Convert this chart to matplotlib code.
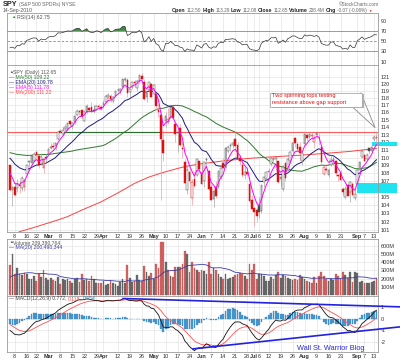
import numpy as np
import pandas as pd
import matplotlib
matplotlib.use('Agg')
import matplotlib.pyplot as plt
from matplotlib.patches import Rectangle
from matplotlib.ticker import NullLocator

plt.rcParams['font.family'] = ['Liberation Sans', 'DejaVu Sans']

# ---------------- data ----------------
holidays = ['2010-02-15', '2010-04-02', '2010-05-31', '2010-07-05', '2010-09-06']
dates = pd.bdate_range('2010-02-04', '2010-09-14', freq='C', holidays=holidays)

opens = [109.0,105.9,106.2,106.1,106.5,106.1,106.3,107.9,109.4,109.3,109.5,110.7,110.2,109.2,108.7,110.1,
 110.4,111.3,111.5,111.5,112.4,113.5,113.1,113.7,113.6,114.9,114.2,114.7,115.7,116.2,116.3,114.9,116.1,116.6,116.8,116.4,116.4,116.9,116.7,
 117.0,117.5,118.1,118.3,117.6,118.3,119.1,119.0,119.6,120.5,120.5,118.8,119.6,120.3,119.4,120.4,121.1,120.3,118.1,119.1,120.0,
 118.6,118.6,116.4,115.6,112.3,114.8,114.7,115.3,116.7,114.4,113.4,113.9,111.2,109.4,105.9,108.1,104.9,107.3,107.7,109.5,
 108.0,107.0,109.7,108.3,106.3,104.8,106.3,106.3,107.5,109.3,108.8,110.9,111.5,111.6,112.4,111.6,109.9,109.1,107.8,108.1,106.6,104.6,
 103.6,103.4,104.0,103.3,106.9,107.3,108.2,109.2,109.7,109.8,109.5,107.2,106.0,109.3,108.4,109.6,110.8,112.6,111.8,111.4,109.6,
 111.8,112.9,112.7,112.8,112.1,113.0,112.6,111.4,107.9,108.5,107.8,109.0,109.6,109.5,107.7,108.0,106.0,105.0,106.5,105.6,106.6,104.9,
 106.6,108.4,110.1,110.3,109.8,111.2,110.9,112.4,112.50]
highs = [109.1,106.4,106.8,107.3,107.0,107.6,107.3,109.1,109.6,110.3,110.7,110.8,110.4,110.4,110.0,110.5,
 111.2,111.9,112.0,111.9,113.5,113.7,114.1,114.4,114.6,114.9,114.7,115.6,116.5,116.3,116.4,116.3,117.1,116.8,117.4,117.0,117.0,117.2,117.0,
 117.7,118.4,118.7,118.6,118.3,119.0,119.4,119.4,120.6,120.9,120.8,119.3,120.3,120.5,120.5,121.3,121.5,120.6,118.8,120.3,120.1,
 119.9,118.7,117.2,116.0,113.6,116.1,116.6,116.8,116.9,114.6,113.8,114.4,112.2,109.8,108.9,108.5,107.2,108.3,109.9,109.6,
 109.3,109.4,110.1,108.4,106.6,105.9,107.0,108.3,108.7,109.9,111.4,111.6,111.9,112.2,113.3,112.1,110.3,109.3,108.8,108.7,106.7,105.3,
 103.8,103.6,105.0,106.5,107.5,108.2,108.7,110.1,110.3,110.2,109.6,107.7,109.0,109.4,110.0,110.8,112.0,112.7,112.0,112.0,110.9,
 113.2,113.1,113.4,113.2,112.9,113.4,113.2,111.5,109.1,108.9,108.7,110.3,110.2,109.7,107.9,108.4,106.2,106.4,106.6,107.0,106.9,106.0,
 108.5,109.5,110.95,110.5,110.6,111.3,111.5,113.0,113.29]
lows = [105.8,103.9,105.1,105.6,105.5,105.7,105.7,107.6,108.8,109.2,109.4,110.0,108.7,109.1,108.0,109.4,
 110.3,111.1,111.1,111.0,112.3,113.2,112.9,113.5,113.5,114.2,113.8,114.5,115.6,115.7,115.2,114.8,115.9,116.1,116.0,115.9,116.3,116.5,116.4,
 116.6,117.4,117.9,117.5,117.3,118.1,118.9,118.5,119.5,120.3,118.1,118.1,119.3,119.5,119.0,120.1,120.6,117.7,117.5,118.9,118.1,
 118.5,116.3,115.4,104.6,109.5,114.1,114.4,115.2,115.1,112.1,110.7,111.5,110.0,106.7,105.4,106.8,104.0,106.2,107.6,108.0,
 106.6,106.3,108.6,105.9,104.6,103.8,104.9,106.1,107.3,108.6,108.7,110.6,110.8,111.3,110.9,109.7,109.0,107.5,107.2,107.6,104.3,103.4,
 101.5,102.0,102.4,103.1,106.3,107.1,107.6,108.9,109.2,108.4,106.7,106.4,105.8,107.0,108.3,109.3,110.6,111.4,110.9,109.7,109.1,
 111.7,112.2,112.5,112.5,111.2,112.7,111.7,109.3,107.8,108.1,107.5,108.9,109.1,107.6,107.0,107.0,105.2,104.8,105.1,104.4,105.3,104.6,
 106.5,108.3,109.9,109.5,109.7,110.5,110.7,112.2,112.08]
closes = [105.9,106.2,105.25,106.6,106.4,107.4,107.1,109.05,109.5,110.2,110.5,110.35,109.0,110.1,109.85,110.0,
 111.1,111.4,111.35,111.85,113.4,113.35,113.6,114.1,114.55,114.5,114.6,115.5,116.15,116.1,115.5,116.1,116.95,116.3,116.1,116.2,116.85,116.8,116.5,
 117.35,118.25,118.45,117.8,118.15,118.95,119.15,119.25,120.6,120.7,118.75,119.25,120.25,120.1,120.4,121.25,120.7,117.9,118.65,120.2,118.2,
 119.75,116.9,116.1,112.4,110.65,115.5,115.1,116.7,115.3,113.1,113.25,111.65,111.05,106.75,108.35,106.95,106.9,106.35,109.85,108.5,
 106.65,109.4,109.85,106.05,104.65,105.8,105.15,108.25,108.7,108.65,111.3,111.35,111.6,111.85,111.5,109.8,109.5,107.7,108.1,107.9,104.55,103.5,
 103.15,102.65,103.2,106.45,107.45,108.2,108.3,109.95,109.9,110.1,106.9,107.55,108.8,107.4,109.8,110.7,111.95,111.85,111.05,110.6,110.65,
 113.05,112.5,113.15,113.0,112.6,113.2,112.55,109.4,108.8,108.35,108.4,109.7,109.85,108.0,107.6,107.15,105.6,105.95,105.15,106.9,105.3,105.35,
 108.45,109.45,110.9,109.6,110.35,110.85,111.4,112.72,112.65]
volumes = [370,500,250,330,260,240,270,250,200,190,230,170,250,220,300,210,
 180,210,180,170,220,130,190,180,190,170,150,200,210,160,250,180,190,170,230,190,150,140,150,
 170,120,130,170,140,130,110,160,190,150,360,210,160,170,240,180,170,350,280,230,270,
 200,380,330,650,650,400,300,230,220,340,340,340,380,530,500,280,400,330,300,280,
 300,290,250,400,260,330,300,260,220,200,250,200,210,220,240,250,270,250,230,200,380,300,
 380,200,250,260,230,170,170,220,200,240,280,210,240,230,210,200,180,200,180,240,220,
 190,170,160,140,220,150,230,280,230,190,170,200,180,260,230,190,280,240,210,280,160,280,
 270,160,170,140,150,140,160,170,208]

# closes / volumes before Feb 4 (indicator warm-up only)
warm_closes = [108.14,109.62,109.57,110.06,108.15,108.56,109.89,109.92,108.99,109.6,109.33,108.19,108.6,
 109.24,109.64,110.41,109.79,109.92,108.61,109.8,110.96,111.35,111.61,112.2,112.33,112.17,112.19,111.06,
 112.85,113.2,113.26,113.72,114.05,114.25,113.17,114.12,114.4,113.15,114.57,113.35,111.2,108.73,109.23,
 108.77,109.3,108.0,106.94,108.47,109.88,109.28]
warm_volumes = [130,120,130,170,150,140,190,170,210,300,320,210,230,240,280,300,210,200,240]

ma200_dates = ['2010-02-04','2010-02-10','2010-02-19','2010-03-05','2010-03-11','2010-03-19','2010-03-31',
 '2010-04-12','2010-04-21','2010-04-29','2010-05-06','2010-05-17','2010-05-21','2010-06-01','2010-06-15',
 '2010-06-29','2010-07-14','2010-07-29','2010-08-13','2010-08-27','2010-09-14']
ma200_vals = [100.2,100.8,101.3,102.2,102.6,103.4,104.4,105.5,106.7,107.5,108.0,108.6,108.9,109.2,109.6,
 109.9,110.1,110.3,110.55,110.8,111.2]

tick_dates = ['2010-02-08','2010-02-16','2010-02-22','2010-03-01','2010-03-08','2010-03-15','2010-03-22',
 '2010-03-29','2010-04-01','2010-04-12','2010-04-19','2010-04-26','2010-05-03','2010-05-10','2010-05-17',
 '2010-05-24','2010-06-01','2010-06-07','2010-06-14','2010-06-21','2010-06-28','2010-07-01','2010-07-06',
 '2010-07-12','2010-07-19','2010-07-26','2010-08-02','2010-08-09','2010-08-16','2010-08-23','2010-09-01',
 '2010-09-07','2010-09-13']
tick_labels = ['8','16','22','Mar','8','15','22','29','Apr','12','19','26','May','10','17','24','Jun','7',
 '14','21','28','Jul','6','12','19','26','Aug','9','16','23','Sep','7','13']
months = {'Mar','Apr','May','Jun','Jul','Aug','Sep'}

price_ticks = list(range(101, 122))
rsi_ticks = [90, 70, 50, 30, 10]
vol_ticks = [100, 200, 300, 400, 500, 600]
macd_ticks = [1, 0, -1, -2]

# ---------------- indicators ----------------
n = len(closes)
O = np.array(opens); Hh = np.array(highs); Lw = np.array(lows); C = np.array(closes)
V = np.array(volumes, dtype=float)
x = np.arange(n)
pos = {d.strftime('%Y-%m-%d'): i for i, d in enumerate(dates)}
tick_idx = [pos[d] for d in tick_dates]

s = pd.Series(warm_closes + closes)
ema5 = s.ewm(span=5, adjust=False).mean().values[-n:]
ema20 = s.ewm(span=20, adjust=False).mean().values[-n:]
ma50 = s.rolling(50).mean().values[-n:]
macd = s.ewm(span=12, adjust=False).mean() - s.ewm(span=26, adjust=False).mean()
sig = macd.ewm(span=9, adjust=False).mean()
hist = (macd - sig).values[-n:]
macd_v = macd.values[-n:]; sig_v = sig.values[-n:]
d = s.diff()
ag = d.clip(lower=0).ewm(alpha=1/14, adjust=False).mean()
al = (-d.clip(upper=0)).ewm(alpha=1/14, adjust=False).mean()
rsi = (100 - 100 / (1 + ag / al)).values[-n:]
vma = pd.Series(warm_volumes + volumes, dtype=float).rolling(20, min_periods=1).mean().values[-n:]
prev = np.concatenate([[warm_closes[-1]], C[:-1]])
up = C >= prev

# ---------------- figure ----------------
W, Hp = 400, 360
fig = plt.figure(figsize=(4, 3.6), dpi=100)
def fx(v): return v / W
def fy(v): return 1 - v / Hp
Lx, Rx = 7, 378
def add_ax(top, bottom):
    return fig.add_axes([fx(Lx), fy(bottom), (Rx - Lx) / W, (bottom - top) / Hp])

ax_r = add_ax(12.5, 64.5)
ax_p = add_ax(64.5, 232)
ax_v = add_ax(239, 295.5)
ax_m = add_ax(295.5, 352)

GRID = '#e4e4e4'
def style(ax, yt, yl, show_x):
    ax.set_xlim(-1.25, 153.65)
    for sp in ax.spines.values():
        sp.set_color('#9a9a9a'); sp.set_linewidth(0.6)
    ax.yaxis.tick_right()
    ax.set_yticks(yt)
    ax.set_yticklabels(yl)
    ax.yaxis.set_minor_locator(NullLocator())
    ax.tick_params(axis='y', length=0, pad=2, labelsize=4, labelcolor='#333333')
    ax.set_xticks(tick_idx)
    if show_x:
        ax.set_xticklabels(tick_labels)
        for t in ax.get_xticklabels():
            if t.get_text() in months:
                t.set_fontweight('bold')
    else:
        ax.set_xticklabels([])
    ax.tick_params(axis='x', length=0, pad=1.2, labelsize=4, labelcolor='#333333')
    ax.set_axisbelow(True)

# RSI panel
ax_r.set_ylim(4.5, 106)
style(ax_r, rsi_ticks, [str(v) for v in rsi_ticks], False)
ax_r.grid(axis='x', color=GRID, lw=0.5)
ax_r.axhline(70, color='#8a8a8a', lw=0.6)
ax_r.axhline(30, color='#8a8a8a', lw=0.6)
ax_r.axhline(50, color='#8a8a8a', lw=0.6, ls=(0, (3, 2)))
ax_r.fill_between(x, rsi, 70, where=rsi >= 70, interpolate=True, color='#3f8a3f', lw=0)
ax_r.fill_between(x, rsi, 30, where=rsi <= 30, interpolate=True, color='#d04040', lw=0)
ax_r.plot(x, rsi, color='#333333', lw=0.5)
ax_r.text(0.5, 101, '\u25B2', color='#3f8a3f', fontsize=3.2, va='top')
ax_r.text(3.0, 101, 'RSI(14) 62.75', color='#555555', fontsize=3.8, va='top')

# Price panel
ax_p.set_yscale('log')
ax_p.set_ylim(100.76, 122.75)
style(ax_p, price_ticks, [str(v) for v in price_ticks], True)
ax_p.grid(True, color=GRID, lw=0.5)
ax_p.yaxis.set_minor_locator(NullLocator())

# cyan highlight boxes (behind labels)
ax_p.add_patch(Rectangle((151.1, 111.52), 10.5, 0.46, facecolor='#1ee3f0', edgecolor='none',
                         clip_on=False, zorder=0.6))
ax_p.add_patch(Rectangle((144.9, 105.5), 16.7, 1.26, facecolor='#1ee3f0', edgecolor='none',
                         clip_on=False, zorder=0.6))

ax_p.axhline(113.36, color='#ff5a5a', lw=0.8, zorder=1.5)
ax_p.hlines(113.36, 20, 62.6, color='#2e6e2e', lw=0.8, zorder=1.6)

ax_p.plot([pos[dd] for dd in ma200_dates], ma200_vals, color='#ff4040', lw=0.7, zorder=2)
ax_p.plot(x, ma50, color='#2e7a2e', lw=0.7, zorder=2)
ax_p.plot(x, ema20, color='#1c1c80', lw=0.7, zorder=2)

bw = 0.68
for i in range(n):
    red = not up[i]
    col = '#dd1111' if red else '#4a4a4a'
    wick = '#f0a0a0' if red else '#a8a8a8'
    ax_p.vlines(i, Lw[i], Hh[i], color=wick, lw=0.5, zorder=2.2)
    lo, hi = min(O[i], C[i]), max(O[i], C[i])
    if hi - lo < 0.06:
        hi = lo + 0.06
    hollow = C[i] > O[i]
    ax_p.add_patch(Rectangle((i - bw / 2, lo), bw, hi - lo, facecolor='white' if hollow else col,
                             edgecolor=col, lw=0.35, zorder=2.4))
ax_p.plot(x, ema5, color='#ff00ff', lw=0.7, zorder=2.6)

# callout box
ax_p.plot([146.5, 152.4, 143.0], [118.7, 113.95, 116.75], color='#8a8a8a', lw=0.6,
          clip_on=False, zorder=4)
ax_p.add_patch(Rectangle((109.2, 116.55), 38.4, 2.05, facecolor='#b0b0b0', edgecolor='none',
                         clip_on=False, zorder=4.1))
ax_p.add_patch(Rectangle((108.6, 116.75), 38.4, 1.95, facecolor='white', edgecolor='#9a9a9a',
                         lw=0.5, clip_on=False, zorder=4.2))
ax_p.text(109.3, 118.28, 'Two spinning tops testing', color='#e01010', fontsize=4.1,
          va='center', zorder=5)
ax_p.text(109.3, 117.42, 'resistance above gap support', color='#e01010', fontsize=4.1,
          va='center', zorder=5)

# Volume panel
ax_v.set_ylim(-7, 682)
style(ax_v, vol_ticks, [f'{v}M' for v in vol_ticks], False)
ax_v.grid(True, color=GRID, lw=0.5)
vcol = np.where(up, '#6e6e6e', '#d46464')
vedge = np.where(up, '#4a4a4a', '#b04848')
ax_v.bar(x, V, width=0.72, color=vcol, edgecolor=vedge, lw=0.2, zorder=2)
ax_v.plot(x, vma, color='#3a3aa8', lw=0.6, zorder=3)

# MACD panel
ax_m.set_ylim(-2.89, 1.99)
style(ax_m, macd_ticks, [str(v) for v in macd_ticks], True)
ax_m.grid(True, color=GRID, lw=0.5)
ax_m.bar(x, hist, width=0.72, color='#4a98cf', edgecolor='#2f7fb8', lw=0.2, zorder=2)
ax_m.plot(x, sig_v, color='#ff5050', lw=0.6, zorder=3)
ax_m.plot(x, macd_v, color='#111111', lw=0.6, zorder=3)
ax_m.plot([47.2, 162.8], [1.73, 1.01], color='#2222e0', lw=1.2, clip_on=False, zorder=4)
ax_m.plot([76.4, 162.8], [-2.62, -0.72], color='#2222e0', lw=1.2, clip_on=False, zorder=4)
ax_m.text(119.8, -2.55, 'Wall St. Warrior Blog', color='#2a2ad8', fontsize=5.3,
          va='center', ha='left', zorder=5)

# ---------------- text blocks ----------------
renderer = fig.canvas.get_renderer()
def seq(x0, y, pieces, gap=1.2):
    xx = x0
    for txt, kw in pieces:
        t = fig.text(fx(xx), fy(y), txt, va='center', ha='left', **kw)
        xx += t.get_window_extent(renderer=renderer).width + gap

seq(3, 4.2, [('SPY', dict(fontsize=5.2, fontweight='bold', color='#222222')),
             ('(S&P 500 SPDRs) NYSE', dict(fontsize=3.7, color='#666666'))])
fig.text(fx(3), fy(10.4), '14-Sep-2010', fontsize=3.7, color='#555555', va='center')
fig.text(fx(379), fy(4.4), '\u00a9StockCharts.com', fontsize=3.4, color='#666666',
         va='center', ha='right')
B = dict(fontsize=3.8, fontweight='bold', color='#222222')
N = dict(fontsize=3.4, color='#666666')
seq(172, 10.6, [('Open', B), ('112.50', N), ('High', B), ('113.29', N), ('Low', B), ('112.08', N),
                ('Close', B), ('112.65', N), ('Volume', B), ('208.4M', N), ('Chg', B),
                ('-0.07 (-0.06%)', N), ('\u25BC', dict(fontsize=2.4, color='#dd0000'))], gap=1.1)

LG = 3.7
seq(9, 72.2, [('\u25B2', dict(fontsize=2.8, color='#555555')),
              ('SPY (Daily) 112.65', dict(fontsize=LG, color='#555555'))], gap=0.6)
leg = [('\u2014 MA(50) 109.22', '#2e7a2e'), ('\u2014 EMA(20) 109.78', '#1c1c80'),
       ('\u2014 EMA(5) 111.78', '#ff00ff'), ('\u2014 MA(200) 111.22', '#ff4040')]
for k, (txt, col) in enumerate(leg):
    fig.text(fx(9), fy(77.6 + 5 * k), txt, fontsize=LG, color=col, va='center')

seq(9, 242.3, [('\u25B2', dict(fontsize=2.8, color='#555555')),
               ('Volume 209,380,764', dict(fontsize=LG, color='#555555'))], gap=0.6)
fig.text(fx(9), fy(247.3), '\u2014 MA(20) 200,490,344', fontsize=LG, color='#3a3aa8', va='center')
seq(9, 298.6, [('\u2014 MACD(12,26,9) 0.772,', dict(fontsize=LG, color='#444444')),
               ('0.118,', dict(fontsize=LG, color='#ff5050')),
               ('0.654', dict(fontsize=LG, color='#2f7fb8'))], gap=1.0)

fig.savefig('out.png', dpi=100)
